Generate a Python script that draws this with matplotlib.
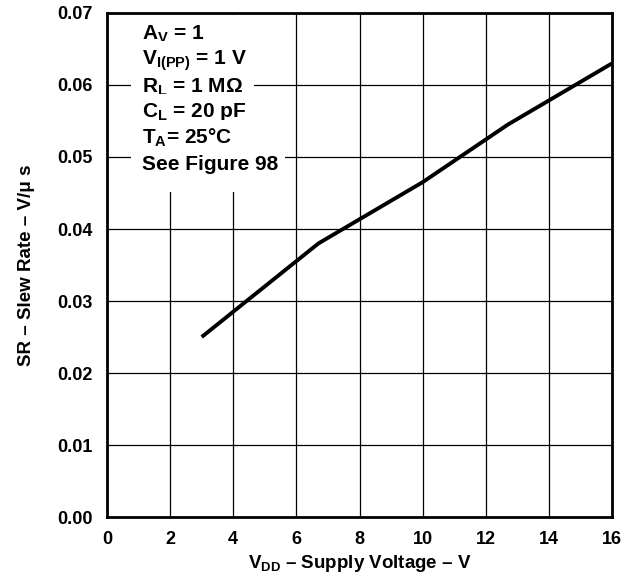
import matplotlib
matplotlib.use("Agg")
import matplotlib.pyplot as plt
from matplotlib.patches import Rectangle

vdd = [3.0, 6.7, 10.0, 12.7, 16.0]
slew = [0.025, 0.038, 0.0465, 0.0545, 0.063]
xticks = [0, 2, 4, 6, 8, 10, 12, 14, 16]
yticks = [0.00, 0.01, 0.02, 0.03, 0.04, 0.05, 0.06, 0.07]
notes = [r'A$_{V}$ = 1', r'V$_{I(PP)}$ = 1 V', r'R$_{L}$ = 1 MΩ',
         r'C$_{L}$ = 20 pF', r'T$_{A}$= 25°C', 'See Figure 98']
note_y = [0.0670, 0.0634, 0.0597, 0.0562, 0.0526, 0.0489]

plt.rcParams['font.family'] = ['Liberation Sans', 'DejaVu Sans']
plt.rcParams['font.weight'] = 'bold'
plt.rcParams['mathtext.fontset'] = 'custom'
plt.rcParams['mathtext.rm'] = 'Liberation Sans:bold'
plt.rcParams['mathtext.it'] = 'Liberation Sans:bold'
plt.rcParams['mathtext.bf'] = 'Liberation Sans:bold'

fig = plt.figure(figsize=(6.25, 5.8), dpi=100)
ax = fig.add_axes([0.1712, 0.1086, 0.808, 0.869])
ax.plot(vdd, slew, color='black', lw=2.8, solid_capstyle='butt', zorder=3)
ax.set_xlim(0, 16)
ax.set_ylim(0, 0.07)
ax.set_xticks(xticks)
ax.set_yticks(yticks)
ax.set_xticklabels([str(v) for v in xticks], fontsize=13, fontweight='bold')
ax.set_yticklabels([f'{v:.2f}' for v in yticks], fontsize=13, fontweight='bold')
ax.tick_params(length=0, pad=10)
ax.grid(True, color='black', lw=0.9)
for s in ax.spines.values():
    s.set_linewidth(2)
ax.set_xlabel(r'V$_{DD}$ – Supply Voltage – V', fontsize=13.5, fontweight='bold', labelpad=4)
ax.set_ylabel('SR – Slew Rate – V/μ s', fontsize=13.5, fontweight='bold', labelpad=16)
ax.add_patch(Rectangle((0.75, 0.0452), 3.9, 0.0245, facecolor='white',
                       edgecolor='none', zorder=2))
for t, y in zip(notes, note_y):
    ax.text(1.1, y, t, fontsize=15, fontweight='bold', va='center', ha='left',
            bbox=dict(facecolor='white', edgecolor='none', pad=5), zorder=4)
fig.savefig('out.png', dpi=100)
